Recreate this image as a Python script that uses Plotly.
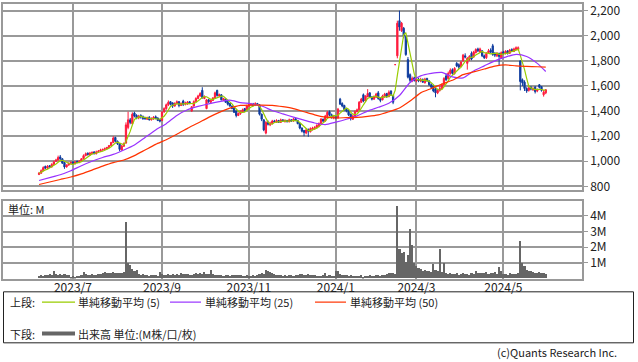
import numpy as np
import pandas as pd
import plotly.graph_objects as go

# ---------------- data ----------------
start_date = "2023-06-09"
jp_holidays = ["2023-07-17", "2023-08-11", "2023-09-18", "2023-10-09", "2023-11-03",
               "2023-11-23", "2024-01-01", "2024-01-02", "2024-01-03", "2024-01-08",
               "2024-02-12", "2024-02-23", "2024-03-20", "2024-04-29", "2024-05-03",
               "2024-05-06"]

opens = [
    895, 905, 925, 960, 945, 965, 955, 975, 1000, 1010,
    1035, 1020, 990, 955, 970, 985, 995, 980, 1000, 990,
    1000, 1020, 1045, 1065, 1050, 1060, 1075, 1060, 1075, 1080,
    1090, 1095, 1100, 1110, 1125, 1150, 1190, 1160, 1140, 1090,
    1120, 1145, 1270, 1330, 1300, 1385, 1365, 1345, 1365, 1355,
    1345, 1335, 1350, 1330, 1340, 1355, 1345, 1330, 1325, 1395,
    1420, 1450, 1475, 1465, 1440, 1460, 1475, 1445, 1480, 1455,
    1455, 1475, 1400, 1440, 1475, 1500, 1520, 1565, 1500, 1420,
    1490, 1470, 1485, 1505, 1565, 1520, 1530, 1485, 1495, 1475,
    1460, 1440, 1425, 1400, 1365, 1380, 1390, 1420, 1410, 1440,
    1450, 1455, 1445, 1460, 1450, 1375, 1330, 1225, 1310, 1290,
    1300, 1320, 1310, 1325, 1310, 1330, 1315, 1325, 1315, 1330,
    1320, 1340, 1325, 1300, 1265, 1245, 1225, 1255, 1235, 1255,
    1260, 1270, 1280, 1300, 1335, 1320, 1355, 1395, 1370, 1345,
    1355, 1345, 1495, 1460, 1445, 1415, 1405, 1375, 1335, 1360,
    1395, 1410, 1470, 1530, 1480, 1515, 1545, 1510, 1495, 1510,
    1545, 1500, 1490, 1515, 1540, 1515, 1560, 1525, 1770, 1840,
    2120, 2040, 2060, 1990, 1810, 1690, 1640, 1665, 1640, 1655,
    1640, 1650, 1625, 1660, 1640, 1610, 1600, 1575, 1545, 1565,
    1580, 1610, 1680, 1660, 1700, 1730, 1700, 1780, 1770, 1755,
    1800, 1840, 1780, 1810, 1860, 1830, 1865, 1895, 1870, 1880,
    1840, 1825, 1860, 1885, 1920, 1860, 1840, 1860, 1825, 1870,
    1860, 1880, 1860, 1890, 1875, 1890, 1890, 1800, 1650, 1630,
    1580, 1565, 1590, 1570, 1590, 1560, 1610, 1595, 1530, 1545,
]
highs = [
    915, 935, 960, 965, 970, 970, 985, 1005, 1020, 1045,
    1050, 1025, 995, 975, 990, 1000, 1000, 1000, 1005, 1010,
    1025, 1055, 1070, 1070, 1075, 1080, 1080, 1085, 1090, 1100,
    1100, 1110, 1115, 1130, 1155, 1200, 1195, 1165, 1145, 1130,
    1150, 1310, 1395, 1345, 1390, 1395, 1375, 1370, 1375, 1365,
    1355, 1355, 1360, 1350, 1360, 1365, 1350, 1340, 1400, 1430,
    1460, 1485, 1480, 1470, 1470, 1485, 1480, 1470, 1490, 1475,
    1480, 1480, 1440, 1485, 1510, 1530, 1550, 1590, 1525, 1495,
    1495, 1490, 1510, 1555, 1570, 1540, 1535, 1505, 1500, 1480,
    1465, 1445, 1430, 1405, 1390, 1405, 1420, 1425, 1450, 1460,
    1465, 1465, 1470, 1465, 1455, 1380, 1335, 1320, 1325, 1315,
    1330, 1330, 1335, 1330, 1340, 1335, 1335, 1330, 1340, 1335,
    1345, 1345, 1330, 1305, 1270, 1250, 1260, 1260, 1270, 1275,
    1280, 1295, 1310, 1345, 1340, 1370, 1400, 1405, 1380, 1365,
    1365, 1425, 1505, 1470, 1450, 1420, 1410, 1380, 1370, 1405,
    1420, 1480, 1505, 1540, 1525, 1575, 1550, 1520, 1525, 1545,
    1560, 1510, 1530, 1545, 1545, 1565, 1565, 1530, 1770, 2120,
    2200, 2110, 2070, 2000, 1830, 1700, 1675, 1675, 1670, 1665,
    1665, 1660, 1665, 1665, 1645, 1620, 1610, 1585, 1575, 1600,
    1620, 1670, 1700, 1715, 1740, 1740, 1750, 1790, 1780, 1800,
    1855, 1860, 1830, 1845, 1875, 1880, 1900, 1905, 1905, 1885,
    1850, 1870, 1895, 1900, 1935, 1870, 1870, 1865, 1875, 1880,
    1885, 1885, 1895, 1900, 1905, 1915, 1915, 1800, 1660, 1645,
    1590, 1595, 1600, 1590, 1600, 1580, 1615, 1600, 1570, 1575,
]
lows = [
    890, 900, 920, 940, 940, 950, 950, 970, 995, 1005,
    1010, 980, 940, 950, 965, 975, 975, 975, 985, 985,
    995, 1015, 1040, 1045, 1045, 1055, 1055, 1055, 1070, 1075,
    1085, 1090, 1095, 1105, 1120, 1145, 1150, 1130, 1080, 1085,
    1115, 1140, 1255, 1295, 1295, 1350, 1335, 1335, 1340, 1330,
    1330, 1330, 1325, 1325, 1330, 1335, 1320, 1310, 1320, 1385,
    1410, 1440, 1445, 1425, 1435, 1450, 1430, 1440, 1440, 1445,
    1450, 1455, 1395, 1435, 1470, 1495, 1515, 1500, 1495, 1415,
    1465, 1460, 1480, 1500, 1515, 1515, 1485, 1480, 1465, 1445,
    1435, 1415, 1385, 1350, 1360, 1370, 1385, 1395, 1405, 1430,
    1440, 1440, 1440, 1445, 1365, 1320, 1240, 1215, 1285, 1280,
    1295, 1305, 1305, 1305, 1305, 1315, 1310, 1310, 1310, 1315,
    1315, 1320, 1295, 1255, 1230, 1200, 1215, 1195, 1230, 1245,
    1250, 1260, 1270, 1295, 1310, 1315, 1350, 1360, 1340, 1335,
    1335, 1340, 1450, 1430, 1405, 1390, 1360, 1325, 1330, 1355,
    1390, 1405, 1465, 1470, 1475, 1510, 1505, 1485, 1490, 1505,
    1490, 1470, 1485, 1505, 1505, 1510, 1520, 1455, 1770, 1820,
    2040, 2030, 1980, 1840, 1660, 1630, 1630, 1635, 1630, 1630,
    1630, 1625, 1620, 1635, 1600, 1575, 1550, 1510, 1535, 1555,
    1570, 1600, 1640, 1650, 1690, 1690, 1690, 1750, 1735, 1750,
    1795, 1820, 1730, 1800, 1805, 1825, 1860, 1870, 1865, 1830,
    1815, 1815, 1855, 1860, 1840, 1830, 1830, 1760, 1820, 1850,
    1850, 1850, 1855, 1870, 1870, 1885, 1880, 1565, 1600, 1560,
    1545, 1555, 1565, 1560, 1540, 1550, 1580, 1555, 1515, 1535,
]
closes = [
    905, 925, 950, 945, 960, 955, 975, 995, 1010, 1030,
    1020, 985, 955, 970, 985, 990, 980, 995, 990, 1000,
    1020, 1045, 1060, 1055, 1065, 1070, 1060, 1075, 1080, 1090,
    1095, 1100, 1110, 1125, 1150, 1185, 1160, 1140, 1095, 1120,
    1140, 1290, 1330, 1310, 1375, 1360, 1345, 1360, 1355, 1340,
    1340, 1345, 1330, 1340, 1350, 1340, 1325, 1320, 1390, 1420,
    1450, 1470, 1455, 1440, 1460, 1475, 1445, 1460, 1455, 1465,
    1470, 1460, 1435, 1475, 1500, 1520, 1540, 1505, 1515, 1490,
    1475, 1485, 1505, 1545, 1525, 1530, 1490, 1500, 1470, 1455,
    1440, 1420, 1390, 1365, 1380, 1395, 1410, 1405, 1440, 1450,
    1455, 1445, 1460, 1450, 1375, 1335, 1250, 1310, 1295, 1305,
    1320, 1315, 1325, 1310, 1330, 1320, 1325, 1315, 1330, 1320,
    1335, 1325, 1300, 1265, 1240, 1230, 1250, 1240, 1260, 1265,
    1270, 1285, 1300, 1335, 1320, 1360, 1390, 1370, 1350, 1355,
    1345, 1415, 1455, 1440, 1410, 1400, 1370, 1340, 1360, 1395,
    1410, 1470, 1495, 1480, 1520, 1540, 1510, 1495, 1515, 1535,
    1500, 1485, 1520, 1535, 1515, 1550, 1530, 1470, 1770, 2100,
    2070, 2100, 2000, 1850, 1670, 1645, 1660, 1645, 1655, 1640,
    1650, 1630, 1655, 1640, 1610, 1590, 1560, 1545, 1565, 1580,
    1610, 1660, 1650, 1700, 1725, 1700, 1740, 1760, 1750, 1790,
    1845, 1830, 1820, 1835, 1815, 1870, 1890, 1880, 1895, 1840,
    1825, 1860, 1880, 1870, 1850, 1845, 1860, 1835, 1865, 1860,
    1875, 1860, 1885, 1880, 1895, 1905, 1905, 1635, 1625, 1580,
    1560, 1585, 1575, 1580, 1555, 1570, 1590, 1565, 1550, 1570,
]
volumes_m = [
    0.18, 0.22, 0.15, 0.25, 0.20, 0.30, 0.22, 0.48, 0.30, 0.25,
    0.28, 0.22, 0.30, 0.20, 0.25, 0.12, 0.15, 0.10, 0.14, 0.18,
    0.20, 0.42, 0.30, 0.25, 0.22, 0.28, 0.20, 0.24, 0.30, 0.28,
    0.35, 0.40, 0.32, 0.38, 0.35, 0.40, 0.33, 0.36, 0.34, 0.38,
    0.40, 3.60, 1.00, 0.85, 0.60, 0.50, 0.55, 0.30, 0.25, 0.28,
    0.20, 0.22, 0.18, 0.20, 0.25, 0.20, 0.18, 0.44, 0.28, 0.25,
    0.22, 0.30, 0.25, 0.28, 0.20, 0.30, 0.25, 0.32, 0.30, 0.28,
    0.30, 0.25, 0.20, 0.30, 0.35, 0.28, 0.32, 0.30, 0.40, 0.28,
    0.30, 0.55, 0.30, 0.25, 0.22, 0.20, 0.20, 0.18, 0.22, 0.20,
    0.18, 0.22, 0.20, 0.25, 0.20, 0.22, 0.15, 0.18, 0.20, 0.15,
    0.15, 0.20, 0.18, 0.20, 0.30, 0.35, 0.30, 0.57, 0.45, 0.40,
    0.38, 0.30, 0.25, 0.20, 0.22, 0.15, 0.20, 0.18, 0.22, 0.20,
    0.15, 0.20, 0.25, 0.30, 0.28, 0.22, 0.25, 0.30, 0.20, 0.22,
    0.20, 0.15, 0.18, 0.15, 0.20, 0.38, 0.18, 0.20, 0.15, 0.18,
    0.49, 0.50, 0.30, 0.22, 0.20, 0.25, 0.18, 0.20, 0.15, 0.18,
    0.15, 0.18, 0.20, 0.12, 0.18, 0.15, 0.20, 0.15, 0.18, 0.22,
    0.20, 0.18, 0.25, 0.20, 0.30, 0.35, 0.32, 0.38, 0.30, 4.64,
    1.85, 1.64, 1.70, 1.06, 1.49, 3.13, 2.13, 0.96, 0.80, 0.64,
    0.60, 0.50, 0.55, 0.45, 0.50, 0.40, 0.90, 0.53, 0.45, 1.90,
    0.43, 0.96, 0.35, 0.30, 0.38, 0.28, 0.30, 0.35, 0.25, 0.30,
    0.32, 0.28, 0.30, 0.25, 0.35, 0.30, 0.49, 0.35, 0.38, 0.32,
    0.35, 0.40, 0.30, 0.38, 0.35, 0.40, 0.30, 0.70, 0.45, 0.30,
    0.30, 0.25, 0.35, 0.30, 0.28, 0.30, 0.35, 2.40, 1.00, 0.80,
    0.55, 0.50, 0.45, 0.40, 0.38, 0.35, 0.40, 0.32, 0.35, 0.30,
]
# moving averages every 5 sessions (and the last one)
ma_sample_index = list(range(0, 240, 5)) + [239]
ma25_values = [
    847, 870, 893, 925, 965, 1000, 1030, 1055, 1090, 1130,
    1190, 1250, 1300, 1365, 1410, 1437, 1458, 1475, 1487, 1468,
    1458, 1440, 1405, 1378, 1352, 1328, 1305, 1292, 1312, 1335,
    1362, 1400, 1430, 1462, 1524, 1628, 1680, 1700, 1708, 1672,
    1665, 1720, 1760, 1800, 1830, 1852, 1835, 1780, 1715,
]
ma50_values = [
    815, 835, 855, 875, 900, 930, 962, 990, 1010, 1045,
    1090, 1135, 1172, 1215, 1262, 1305, 1350, 1390, 1423, 1445,
    1448, 1448, 1446, 1435, 1420, 1395, 1370, 1352, 1345, 1348,
    1350, 1358, 1370, 1395, 1425, 1480, 1545, 1580, 1615, 1645,
    1690, 1712, 1735, 1758, 1768, 1760, 1756, 1753, 1750,
]
price_ticks = [800, 1000, 1200, 1400, 1600, 1800, 2000, 2200]
volume_ticks = [1, 2, 3, 4]
volume_tick_text = ["1M", "2M", "3M", "4M"]
month_starts = ["2023-07-01", "2023-09-01", "2023-11-01", "2024-01-01", "2024-03-01", "2024-05-01"]
month_labels = ["2023/7", "2023/9", "2023/11", "2024/1", "2024/3", "2024/5"]

# ---------------- derived ----------------
n = len(closes)
bday = pd.offsets.CustomBusinessDay(holidays=jp_holidays)
dates = pd.date_range(start_date, periods=n, freq=bday)
idx = np.arange(n)
month_idx = [int(np.searchsorted(dates.values, np.datetime64(m))) for m in month_starts]
ma5 = pd.Series(closes, dtype=float).rolling(5, min_periods=1).mean()

# ---------------- style ----------------
W, H = 638, 362
UP = "#ff1a3c"
DOWN = "#0d3b9e"
GRID = "#999999"
FONT = "Noto Sans CJK JP"
TXT = "#222222"
C5, C25, C50 = "#99cc00", "#9933ff", "#ff3300"

def px(x):
    return x / W

def py(y):
    return 1 - y / H

x_dom = [px(3), px(582)]
x_range = [-17, 256.1]

fig = go.Figure()
fig.add_trace(go.Candlestick(
    x=idx, open=opens, high=highs, low=lows, close=closes,
    increasing=dict(line=dict(color=UP, width=1), fillcolor=UP),
    decreasing=dict(line=dict(color=DOWN, width=1), fillcolor=DOWN),
    whiskerwidth=0, showlegend=False, hoverinfo="skip", xaxis="x", yaxis="y"))
fig.add_trace(go.Scatter(x=idx, y=ma5, mode="lines", line=dict(color=C5, width=1.2),
                         showlegend=False, hoverinfo="skip", xaxis="x", yaxis="y"))
fig.add_trace(go.Scatter(x=ma_sample_index, y=ma25_values, mode="lines",
                         line=dict(color=C25, width=1.2, shape="spline", smoothing=0.6),
                         showlegend=False, hoverinfo="skip", xaxis="x", yaxis="y"))
fig.add_trace(go.Scatter(x=ma_sample_index, y=ma50_values, mode="lines",
                         line=dict(color=C50, width=1.2, shape="spline", smoothing=0.6),
                         showlegend=False, hoverinfo="skip", xaxis="x", yaxis="y"))
fig.add_trace(go.Bar(x=idx, y=volumes_m, width=1.0, marker=dict(color="#666666", line=dict(width=0)),
                     showlegend=False, hoverinfo="skip", xaxis="x2", yaxis="y2"))

axis_common = dict(showgrid=True, gridcolor=GRID, gridwidth=1.5, showline=True, linecolor=GRID,
                   linewidth=1.5, mirror=True, zeroline=False, fixedrange=True)

fig.update_layout(
    width=W, height=H,
    margin=dict(l=0, r=0, t=0, b=0, pad=0),
    paper_bgcolor="white", plot_bgcolor="white",
    font=dict(family=FONT, size=12, color=TXT),
    bargap=0, boxgap=0.15,
    xaxis=dict(domain=x_dom, range=x_range, anchor="y", tickvals=month_idx,
               showticklabels=False, rangeslider=dict(visible=False), ticks="", **axis_common),
    yaxis=dict(domain=[py(190), py(0.5)], range=[768.75, 2249], anchor="x", side="right",
               tickvals=price_ticks, tickformat=",d", ticks="outside", ticklen=4, tickcolor=GRID,
               ticklabeloverflow="allow", tickfont=dict(size=12, color=TXT), **axis_common),
    xaxis2=dict(domain=x_dom, range=x_range, anchor="y2", tickvals=month_idx, ticktext=month_labels,
                ticks="", ticklabeloverflow="allow", ticklabelstandoff=-3,
                tickfont=dict(size=12, color=TXT), **axis_common),
    yaxis2=dict(domain=[py(280), py(201)], range=[0, 4.94], anchor="x2", side="right",
                tickvals=volume_ticks, ticktext=volume_tick_text, ticks="outside", ticklen=4,
                ticklabeloverflow="allow", tickcolor=GRID, tickfont=dict(size=12, color=TXT),
                **axis_common),
)

shapes = []
annotations = []

def text(x, y, s, xanchor="left", size=11):
    annotations.append(dict(x=px(x), y=py(y), xref="paper", yref="paper", text=s, showarrow=False,
                            xanchor=xanchor, yanchor="middle", borderpad=0,
                            font=dict(family=FONT, size=size, color=TXT)))

def hline(x0, x1, y, color, width):
    shapes.append(dict(type="line", xref="paper", yref="paper", x0=px(x0), x1=px(x1), y0=py(y), y1=py(y),
                       line=dict(color=color, width=width)))

# legend box
shapes.append(dict(type="rect", xref="paper", yref="paper", x0=px(3.5), x1=px(633.5), y0=py(345.5), y1=py(293.5),
                   line=dict(color="#222222", width=1)))
text(9, 304, "上段:")
hline(42, 75, 304, C5, 1.2)
text(77, 304, "単純移動平均 (5)")
hline(170, 201, 304, C25, 1.2)
text(204, 304, "単純移動平均 (25)")
hline(315, 346, 304, C50, 1.2)
text(349, 304, "単純移動平均 (50)")
text(9, 336, "下段:")
hline(42, 75, 336, "#666666", 4)
text(77, 336, "出来高 単位:(M株/口/枚)")
text(618, 355, "(c)Quants Research Inc.", xanchor="right")
text(7, 209, "単位: M")

fig.update_layout(shapes=shapes, annotations=annotations)
fig.write_html("out.html", config={"displayModeBar": False},
               post_script="document.body.style.margin='0px';document.body.style.padding='0px';")
